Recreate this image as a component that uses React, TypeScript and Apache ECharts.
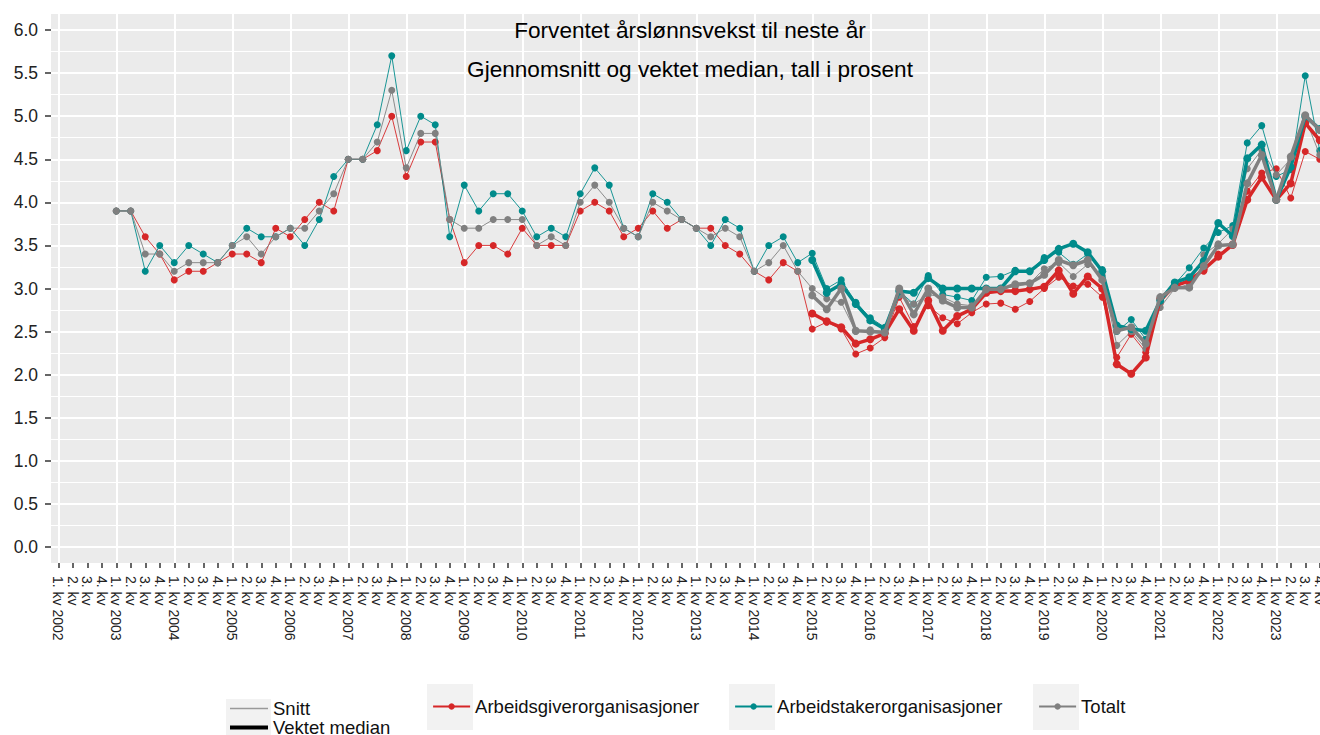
import React, { useEffect, useRef } from "react";
import * as echarts from "echarts";

const FONT = "'Liberation Sans', Arial, Helvetica, sans-serif";

const years = [2002, 2003, 2004, 2005, 2006, 2007, 2008, 2009, 2010, 2011, 2012, 2013, 2014, 2015, 2016, 2017, 2018, 2019, 2020, 2021, 2022, 2023];
const quarterNames = ["1. kv", "2. kv", "3. kv", "4. kv"];

const categories: string[] = [];
const tickLabels: string[] = [];
years.forEach((y) => {
  quarterNames.forEach((q, i) => {
    categories.push(`${y}K${i + 1}`);
    tickLabels.push(i === 0 ? `${q} ${y}` : q);
  });
});

const titleText = "Forventet årslønnsvekst til neste år";
const subtitleText = "Gjennomsnitt og vektet median, tall i prosent";

const groupNames = ["Arbeidsgiverorganisasjoner", "Arbeidstakerorganisasjoner", "Totalt"];
const groupColors = ["#D62728", "#008B8B", "#808080"];
const typeNames = ["Snitt", "Vektet median"];

// Snitt (average), 2003 K1 - 2023 K4
const snittArbeidsgiver = [
  3.9, 3.9, 3.6, 3.4,
  3.1, 3.2, 3.2, 3.3,
  3.4, 3.4, 3.3, 3.7,
  3.6, 3.8, 4.0, 3.9,
  4.5, 4.5, 4.6, 5.0,
  4.3, 4.7, 4.7, 3.8,
  3.3, 3.5, 3.5, 3.4,
  3.7, 3.5, 3.5, 3.5,
  3.9, 4.0, 3.9, 3.6,
  3.7, 3.9, 3.7, 3.8,
  3.7, 3.7, 3.5, 3.4,
  3.2, 3.1, 3.3, 3.2,
  2.53, 2.61, 2.53, 2.24,
  2.31, 2.43, 2.9, 2.56,
  2.8, 2.66, 2.59, 2.72,
  2.82, 2.83, 2.76, 2.85,
  3.0, 3.13, 3.03, 3.05,
  2.9, 2.2, 2.47, 2.26,
  2.83, 3.02, 3.1, 3.2,
  3.4, 3.5, 4.13, 4.34,
  4.39, 4.05, 4.59, 4.5,
];

const snittArbeidstaker = [
  3.9, 3.9, 3.2, 3.5,
  3.3, 3.5, 3.4, 3.3,
  3.5, 3.7, 3.6, 3.6,
  3.7, 3.5, 3.8, 4.3,
  4.5, 4.5, 4.9, 5.7,
  4.6, 5.0, 4.9, 3.6,
  4.2, 3.9, 4.1, 4.1,
  3.9, 3.6, 3.7, 3.6,
  4.1, 4.4, 4.2, 3.7,
  3.6, 4.1, 4.0, 3.8,
  3.7, 3.5, 3.8, 3.7,
  3.2, 3.5, 3.6, 3.3,
  3.41, 3.0, 3.1, 2.84,
  2.66, 2.55, 2.97, 2.82,
  3.15, 2.93, 2.9, 2.86,
  3.13, 3.14, 3.21, 3.2,
  3.36, 3.42, 3.28, 3.4,
  3.22, 2.5, 2.64, 2.41,
  2.88, 3.05, 3.24, 3.47,
  3.65, 3.73, 4.69, 4.89,
  4.3, 4.38, 5.47, 4.6,
];

const snittTotalt = [
  3.9, 3.9, 3.4, 3.4,
  3.2, 3.3, 3.3, 3.3,
  3.5, 3.6, 3.4, 3.6,
  3.7, 3.7, 3.9, 4.1,
  4.5, 4.5, 4.7, 5.3,
  4.4, 4.8, 4.8, 3.8,
  3.7, 3.7, 3.8, 3.8,
  3.8, 3.5, 3.6, 3.5,
  4.0, 4.2, 4.0, 3.7,
  3.6, 4.0, 3.9, 3.8,
  3.7, 3.6, 3.7, 3.6,
  3.2, 3.3, 3.5, 3.2,
  3.0, 2.88, 2.84, 2.5,
  2.52, 2.5, 2.92, 2.82,
  2.93, 2.9, 2.82, 2.8,
  2.97, 3.0, 3.02, 3.06,
  3.23, 3.3, 3.14, 3.28,
  3.15, 2.34, 2.5, 2.3,
  2.78, 3.0, 3.05, 3.39,
  3.52, 3.69, 4.39, 4.61,
  4.32, 4.5, 4.98, 4.55,
];

// Vektet median (weighted median), 2015 K1 - 2023 K4
const medianArbeidsgiver = [
  2.71, 2.62, 2.55, 2.36,
  2.41, 2.48, 2.76, 2.51,
  2.86, 2.51, 2.68, 2.76,
  2.95, 2.97, 2.97, 2.99,
  3.02, 3.21, 2.94, 3.14,
  3.0, 2.12, 2.01, 2.2,
  2.88, 3.03, 3.09, 3.22,
  3.37, 3.51, 4.03, 4.29,
  4.03, 4.22, 4.92, 4.72,
];

const medianArbeidstaker = [
  3.33, 2.95, 3.05, 2.82,
  2.63, 2.53, 2.97, 2.95,
  3.12, 3.0, 3.0, 3.0,
  3.0, 3.0, 3.2, 3.2,
  3.33, 3.46, 3.52, 3.42,
  3.2, 2.57, 2.53, 2.51,
  2.86, 3.07, 3.13, 3.32,
  3.76, 3.61, 4.51, 4.67,
  4.03, 4.41, 5.0, 4.85,
];

const medianTotalt = [
  2.92, 2.76, 3.0, 2.51,
  2.5, 2.49, 3.0, 2.7,
  3.0, 2.86, 2.78, 2.78,
  2.99, 2.99, 3.05, 3.06,
  3.16, 3.33, 3.27, 3.33,
  3.1, 2.51, 2.55, 2.36,
  2.9, 3.01, 3.01, 3.26,
  3.5, 3.51, 4.22, 4.55,
  4.03, 4.53, 5.01, 4.84,
];

const snittStart = "2003K1";
const medianStart = "2015K1";

function padTo(start: string, values: number[]): (number | null)[] {
  const offset = categories.indexOf(start);
  return [...new Array(offset).fill(null), ...values];
}

const snittSeries = [snittArbeidsgiver, snittArbeidstaker, snittTotalt];
const medianSeries = [medianArbeidsgiver, medianArbeidstaker, medianTotalt];

export default function App() {
  const ref = useRef<HTMLDivElement>(null);

  useEffect(() => {
    if (!ref.current) return;
    const chart = echarts.init(ref.current, undefined, { renderer: "svg", width: 1320, height: 735 });

    const lineSeries = (name: string, data: (number | null)[], color: string, width: number, size: number, z: number) => ({
      type: "line",
      name,
      data,
      xAxisIndex: 0,
      yAxisIndex: 0,
      symbol: "circle",
      symbolSize: size,
      showSymbol: true,
      showAllSymbol: true,
      connectNulls: false,
      lineStyle: { color, width },
      itemStyle: { color },
      emphasis: { disabled: true },
      silent: true,
      z,
    });

    const series: any[] = [];
    snittSeries.forEach((vals, i) => {
      series.push(lineSeries(groupNames[i], padTo(snittStart, vals), groupColors[i], 0.9, 7, 2 + i));
    });
    medianSeries.forEach((vals, i) => {
      series.push(lineSeries(groupNames[i], padTo(medianStart, vals), groupColors[i], 3.5, 8, 6 + i));
    });
    // legend-only series for the line type key
    series.push({ type: "line", name: typeNames[0], data: [], xAxisIndex: 0, yAxisIndex: 0, itemStyle: { color: "#9A9A9A" }, lineStyle: { color: "#9A9A9A", width: 1 } });
    series.push({ type: "line", name: typeNames[1], data: [], xAxisIndex: 0, yAxisIndex: 0, itemStyle: { color: "#000000" }, lineStyle: { color: "#000000", width: 4 } });

    const legendText = { fontSize: 18.5, color: "#111111", fontFamily: FONT };
    const keyBg = "#F2F2F2";

    const option: any = {
      animation: false,
      backgroundColor: "#FFFFFF",
      textStyle: { fontFamily: FONT },
      grid: [
        { left: 51, right: -7, top: 30, bottom: 188, containLabel: false, outerBoundsMode: "none" },
        { left: 51, right: -7, top: 14, bottom: 172, show: true, backgroundColor: "#EBEBEB", borderWidth: 0, outerBoundsMode: "none" },
        { left: 58.25, right: 0.25, top: 14, bottom: 172, outerBoundsMode: "none" },
      ],
      xAxis: [
        { gridIndex: 0, type: "category", data: categories, boundaryGap: true, show: false },
        { gridIndex: 1, type: "category", data: categories, boundaryGap: true, show: false },
        {
          gridIndex: 2,
          type: "category",
          data: categories,
          boundaryGap: false,
          axisLine: { show: false },
          axisTick: { show: true, interval: 0, length: 5, lineStyle: { color: "#333333", width: 1.5 } },
          axisLabel: {
            show: true,
            interval: 0,
            rotate: -90,
            margin: 13,
            fontSize: 14,
            color: "#222222",
            fontFamily: FONT,
            hideOverlap: false,
            formatter: (_v: string, idx: number) => tickLabels[idx],
          },
          splitLine: {
            show: true,
            interval: (idx: number) => idx % 4 === 0,
            lineStyle: { color: "#FFFFFF", width: 2 },
          },
        },
      ],
      yAxis: [
        {
          gridIndex: 0,
          type: "value",
          min: 0,
          max: 6,
          interval: 0.5,
          axisLine: { show: false },
          axisTick: { show: true, length: 6, lineStyle: { color: "#333333", width: 1.5 } },
          axisLabel: {
            fontSize: 17.5,
            color: "#222222",
            margin: 13,
            fontFamily: FONT,
            formatter: (v: number) => v.toFixed(1),
          },
          splitLine: { show: true, lineStyle: { color: "#FFFFFF", width: 2 } },
          minorTick: { show: false, splitNumber: 2 },
          minorSplitLine: { show: true, lineStyle: { color: "#FFFFFF", width: 1 } },
        },
        { gridIndex: 1, type: "value", min: 0, max: 1, show: false },
        { gridIndex: 2, type: "value", min: 0, max: 1, show: false },
      ],
      legend: [
        {
          data: [typeNames[0]],
          left: 230,
          top: 699,
          padding: 0,
          icon: "rect",
          itemWidth: 38,
          itemHeight: 1.3,
          selectedMode: false,
          textStyle: legendText,
        },
        {
          data: [typeNames[1]],
          left: 230,
          top: 718,
          padding: 0,
          icon: "rect",
          itemWidth: 38,
          itemHeight: 4,
          selectedMode: false,
          textStyle: legendText,
        },
        {
          data: [groupNames[0]],
          left: 432,
          top: 697,
          padding: 0,
          itemWidth: 37,
          itemHeight: 8,
          selectedMode: false,
          lineStyle: { width: 2.2 },
          textStyle: legendText,
        },
        {
          data: [groupNames[1]],
          left: 734,
          top: 697,
          padding: 0,
          itemWidth: 37,
          itemHeight: 8,
          selectedMode: false,
          lineStyle: { width: 2.2 },
          textStyle: legendText,
        },
        {
          data: [groupNames[2]],
          left: 1038,
          top: 697,
          padding: 0,
          itemWidth: 37,
          itemHeight: 8,
          selectedMode: false,
          lineStyle: { width: 2.2 },
          textStyle: legendText,
        },
      ],
      graphic: {
        elements: [
          { type: "rect", silent: true, z: 0, shape: { x: 226, y: 699, width: 45, height: 40 }, style: { fill: keyBg } },
          { type: "rect", silent: true, z: 0, shape: { x: 427, y: 684, width: 46, height: 46 }, style: { fill: keyBg } },
          { type: "rect", silent: true, z: 0, shape: { x: 729, y: 684, width: 46, height: 46 }, style: { fill: keyBg } },
          { type: "rect", silent: true, z: 0, shape: { x: 1033, y: 684, width: 46, height: 46 }, style: { fill: keyBg } },
          {
            type: "text",
            silent: true,
            z: 100,
            x: 690,
            y: 30,
            style: { text: titleText, fontSize: 22.6, fontFamily: FONT, fill: "#000000", align: "center", verticalAlign: "middle", textAlign: "center", textVerticalAlign: "middle" },
          },
          {
            type: "text",
            silent: true,
            z: 100,
            x: 690,
            y: 69,
            style: { text: subtitleText, fontSize: 22.6, fontFamily: FONT, fill: "#000000", align: "center", verticalAlign: "middle", textAlign: "center", textVerticalAlign: "middle" },
          },
        ],
      },
      series,
    };

    chart.setOption(option);
    return () => chart.dispose();
  }, []);

  return <div ref={ref} style={{ position: "absolute", left: 0, top: 0, width: 1320, height: 735 }} />;
}
